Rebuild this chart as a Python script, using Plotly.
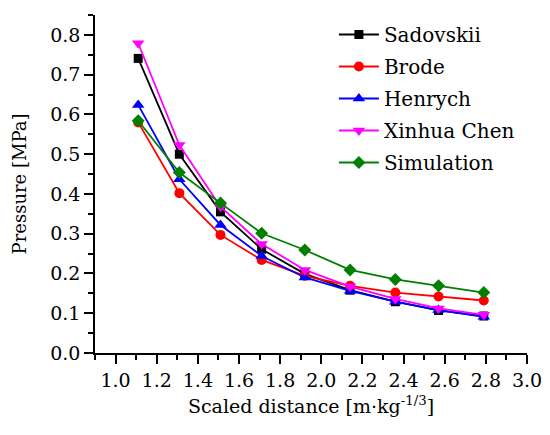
import plotly.graph_objects as go

x = [1.11, 1.31, 1.51, 1.71, 1.92, 2.14, 2.36, 2.57, 2.79]
sadovskii = [0.741, 0.500, 0.355, 0.261, 0.199, 0.158, 0.129, 0.107, 0.093]
brode = [0.580, 0.402, 0.297, 0.234, 0.194, 0.169, 0.152, 0.142, 0.132]
henrych = [0.624, 0.437, 0.322, 0.244, 0.190, 0.156, 0.129, 0.108, 0.091]
xinhua = [0.779, 0.523, 0.368, 0.274, 0.209, 0.167, 0.136, 0.112, 0.096]
simulation = [0.584, 0.454, 0.377, 0.301, 0.259, 0.209, 0.185, 0.169, 0.152]

names = ["Sadovskii", "Brode", "Henrych", "Xinhua Chen", "Simulation"]
series = [sadovskii, brode, henrych, xinhua, simulation]
colors = ["#000000", "#FF0000", "#0000FF", "#FF00FF", "#008000"]
symbols = ["square", "circle", "triangle-up", "triangle-down", "diamond"]
sizes = [9, 10, 11, 11, 10]

x_title = "Scaled distance [m·kg<sup>-1/3</sup>]"
y_title = "Pressure [MPa]"

FONT = "DejaVu Serif"
TICK_FS = 19
TITLE_FS = 18
LEG_FS = 20

fig = go.Figure()
for n, s, c, sym, sz in zip(names, series, colors, symbols, sizes):
    fig.add_trace(go.Scatter(
        x=x, y=s, name=n, mode="lines+markers", legendgroup=n,
        line=dict(color=c, width=1.8),
        marker=dict(symbol=sym, size=sz, color=c),
    ))

axis_common = dict(
    showline=True, linecolor="black", linewidth=1.5,
    ticks="outside", ticklen=9, tickwidth=1.5, tickcolor="black",
    showgrid=False, zeroline=False, mirror=False,
    tickfont=dict(family=FONT, size=TICK_FS, color="black"),
)

fig.update_layout(
    width=550, height=435,
    margin=dict(l=87, r=31, t=7, b=90),
    paper_bgcolor="white", plot_bgcolor="white",
    font=dict(family=FONT, size=TICK_FS, color="black"),
    xaxis=dict(
        range=[0.9, 3.0], tick0=1.0, dtick=0.2, tickformat=".1f",
        minor=dict(dtick=0.1, tick0=0.9, ticks="outside", ticklen=5, tickwidth=1.5, tickcolor="black"),
        title=dict(text=x_title, font=dict(family=FONT, size=19), standoff=10),
        **axis_common,
    ),
    yaxis=dict(
        range=[0, 0.8501], tick0=0, dtick=0.1, tickformat=".1f",
        minor=dict(dtick=0.05, tick0=0, ticks="outside", ticklen=5, tickwidth=1.5, tickcolor="black"),
        title=dict(text=y_title + "\u00a0" * 4, font=dict(family=FONT, size=TITLE_FS), standoff=19),
        **axis_common,
    ),
    legend=dict(
        x=0.553, y=1.0, xanchor="left", yanchor="top",
        bgcolor="rgba(0,0,0,0)", borderwidth=0,
        font=dict(family=FONT, size=LEG_FS, color="black"),
        itemwidth=40, tracegroupgap=3,
    ),
)

fig.write_html("out.html")
